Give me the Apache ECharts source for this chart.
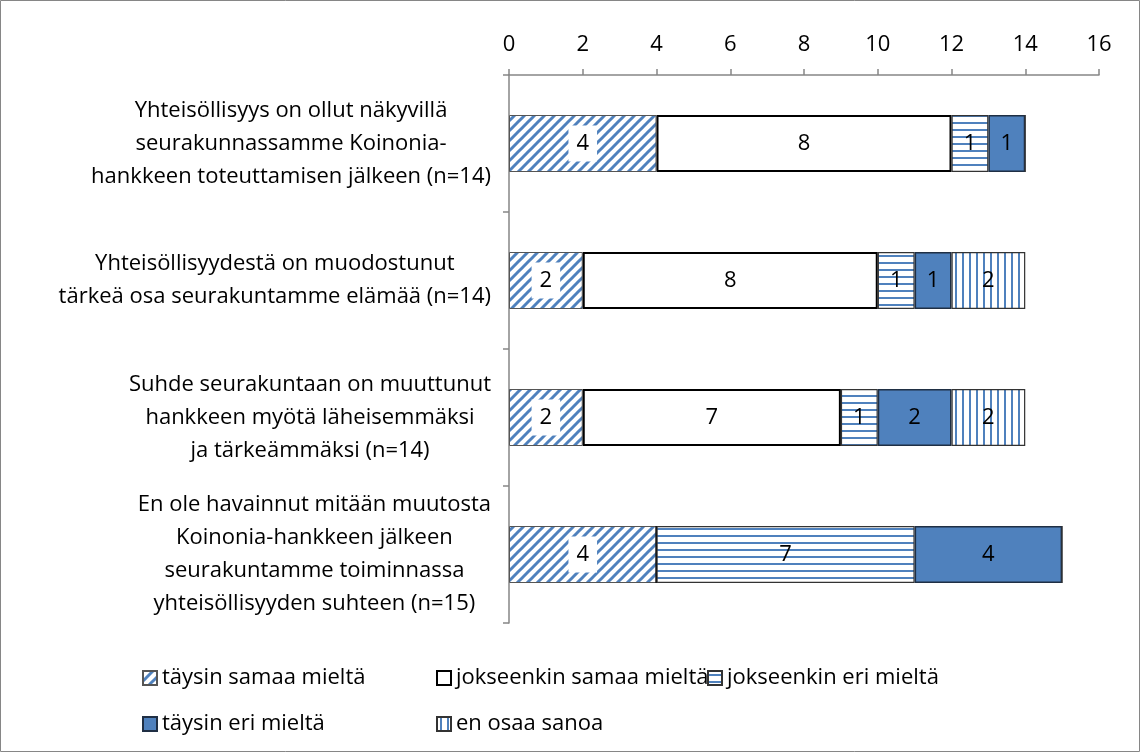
<!DOCTYPE html>
<html><head><meta charset="utf-8">
<script src="https://cdn.jsdelivr.net/npm/echarts@6/dist/echarts.min.js"></script>
<style>html,body{margin:0;padding:0;background:#fff}#c{width:1141px;height:753px}</style>
</head><body><div id="c"></div>
<script>
const categories = [
  "Yhteisöllisyys on ollut näkyvillä\nseurakunnassamme Koinonia-\nhankkeen toteuttamisen jälkeen (n=14)",
  "Yhteisöllisyydestä on muodostunut\ntärkeä osa seurakuntamme elämää (n=14)",
  "Suhde seurakuntaan on muuttunut\nhankkeen myötä läheisemmäksi\nja tärkeämmäksi (n=14)",
  "En ole havainnut mitään muutosta\nKoinonia-hankkeen jälkeen\nseurakuntamme toiminnassa\nyhteisöllisyyden suhteen (n=15)"
];
const seriesNames = ["täysin samaa mieltä","jokseenkin samaa mieltä","jokseenkin eri mieltä","täysin eri mieltä","en osaa sanoa"];
const taysinSamaa = [4, 2, 2, 4];
const jokseenkinSamaa = [8, 8, 7, 0];
const jokseenkinEri = [1, 1, 1, 7];
const taysinEri = [1, 1, 2, 4];
const enOsaa = [0, 2, 2, 0];
const xTicks = [0, 2, 4, 6, 8, 10, 12, 14, 16];

const BLUE = '#4F81BD';
function makeCanvas(w, h, draw) {
  const c = document.createElement('canvas'); c.width = w; c.height = h;
  const ctx = c.getContext('2d'); ctx.fillStyle = '#fff'; ctx.fillRect(0,0,w,h);
  draw(ctx); return c;
}
const diag = makeCanvas(10, 10, ctx => {
  ctx.strokeStyle = BLUE; ctx.lineWidth = 3;
  for (let k = -1; k <= 1; k++) {
    ctx.beginPath(); ctx.moveTo(k*10 - 2, 12); ctx.lineTo(k*10 + 12, -2); ctx.stroke();
  }
});
const horiz = makeCanvas(4, 7, ctx => { ctx.fillStyle = BLUE; ctx.fillRect(0, 3, 4, 2); });
const vert = makeCanvas(7, 4, ctx => { ctx.fillStyle = BLUE; ctx.fillRect(3, 0, 2, 4); });

const FONT = 'Open Sans';
const FS = 22;
const chart = echarts.init(document.getElementById('c'));
const baseLabel = { show: true, position: 'inside', color: '#000', fontSize: FS, fontFamily: FONT,
  formatter: p => p.value ? String(p.value) : '' };
function mk(name, data, style, labelExtra) {
  return { name, type: 'bar', stack: 's', data, barWidth: 57, itemStyle: style,
    label: Object.assign({}, baseLabel, labelExtra || {}), emphasis: { disabled: true } };
}
const series = [
  mk(seriesNames[0], taysinSamaa, { color: { image: diag, repeat: 'repeat' }, borderColor: '#555', borderWidth: 1 },
     { backgroundColor: '#fff', padding: [8, 8, 6, 8] }),
  mk(seriesNames[1], jokseenkinSamaa, { color: '#fff', borderColor: '#000', borderWidth: 2 }),
  mk(seriesNames[2], jokseenkinEri, { color: { image: horiz, repeat: 'repeat' }, borderColor: '#333', borderWidth: 1.2 }),
  mk(seriesNames[3], taysinEri, { color: BLUE, borderColor: '#1f2f44', borderWidth: 1.5 }),
  mk(seriesNames[4], enOsaa, { color: { image: vert, repeat: 'repeat' }, borderColor: '#333', borderWidth: 1.2 })
];
const legendPos = [[142, 667], [436, 667], [707, 667], [142, 713], [436, 713]];
const legends = seriesNames.map((n, i) => ({
  data: [n], left: legendPos[i][0], top: legendPos[i][1], itemWidth: 14, itemHeight: 14, itemGap: 4,
  icon: 'rect', selectedMode: false, padding: 0,
  textStyle: { fontSize: FS, fontFamily: FONT, color: '#000', padding: [0, 0, 0, 0] }
}));
chart.setOption({
  animation: false,
  graphic: [{ type: 'rect', shape: { x: 0.5, y: 0.5, width: 1139, height: 751 },
    style: { fill: 'none', stroke: '#868686', lineWidth: 1 }, silent: true, z: -1 }],
  grid: { left: 509, right: 42, top: 75, bottom: 130 },
  legend: legends,
  xAxis: { type: 'value', position: 'top', min: 0, max: 16, interval: 2,
    axisLine: { show: true, lineStyle: { color: '#868686', width: 1.5 } },
    axisTick: { show: true, inside: false, length: 6, lineStyle: { color: '#868686', width: 1.5 } },
    splitLine: { show: false },
    axisLabel: { fontSize: FS, fontFamily: FONT, color: '#000', margin: 19,
      formatter: v => xTicks.includes(v) ? String(v) : '' } },
  yAxis: { type: 'category', data: categories, inverse: true,
    axisLine: { show: true, lineStyle: { color: '#868686', width: 1.5 } },
    axisTick: { show: true, length: 6, lineStyle: { color: '#868686', width: 1.5 } },
    axisLabel: { fontSize: FS, fontFamily: FONT, color: '#000', margin: 18, align: 'right', lineHeight: 33,
      formatter: v => v.split('\n').map(l => '{c|' + l + '}').join('\n'),
      rich: { c: { align: 'center', fontSize: FS, fontFamily: FONT, lineHeight: 33, color: '#000' } } } },
  series
});
</script></body></html>
